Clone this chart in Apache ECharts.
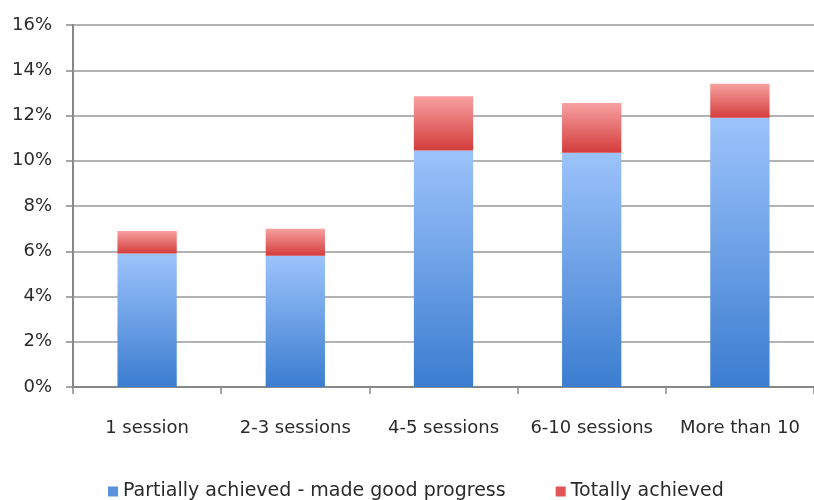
<!DOCTYPE html>
<html>
<head>
<meta charset="utf-8">
<script src="https://cdn.jsdelivr.net/npm/echarts@6/dist/echarts.min.js"></script>
<style>
html,body{margin:0;padding:0;background:#fff;}
#chart{width:814px;height:500px;}
</style>
</head>
<body>
<div id="chart"></div>
<script>
// Share of clients by number of sessions, split by outcome
const categories = ['1 session', '2-3 sessions', '4-5 sessions', '6-10 sessions', 'More than 10'];
const partiallyAchieved = [5.9, 5.8, 10.45, 10.35, 11.9];
const totallyAchieved = [1.0, 1.2, 2.4, 2.2, 1.5];
const seriesNames = ['Partially achieved - made good progress', 'Totally achieved'];
const yTicks = [0, 2, 4, 6, 8, 10, 12, 14, 16];

const font = 'DejaVu Sans';

function vGrad(top, bottom) {
  return new echarts.graphic.LinearGradient(0, 0, 0, 1, [
    { offset: 0, color: top },
    { offset: 1, color: bottom }
  ]);
}

const chart = echarts.init(document.getElementById('chart'));
chart.setOption({
  animation: false,
  textStyle: { fontFamily: font },
  grid: { left: 73, right: -4, top: 25, bottom: 113, containLabel: false },
  legend: {
    bottom: -6,
    left: 103,
    itemWidth: 10,
    itemHeight: 10,
    itemGap: 50,
    icon: 'rect',
    textStyle: { fontFamily: font, fontSize: 19, color: '#2a2a2a' },
    data: [
      { name: seriesNames[0], itemStyle: { color: '#5b92df' } },
      { name: seriesNames[1], itemStyle: { color: '#e05656' } }
    ]
  },
  xAxis: {
    type: 'category',
    data: categories,
    axisLine: { lineStyle: { color: '#888', width: 2 } },
    axisTick: { show: true, length: 7, lineStyle: { color: '#888', width: 1.5 } },
    axisLabel: { fontSize: 18, color: '#2a2a2a', margin: 32, interval: 0 }
  },
  yAxis: {
    type: 'value',
    min: yTicks[0],
    max: yTicks[yTicks.length - 1],
    interval: 2,
    axisLine: { show: true, lineStyle: { color: '#888', width: 2 } },
    axisTick: { show: true, length: 7, lineStyle: { color: '#888', width: 1.5 } },
    splitLine: { lineStyle: { color: '#999', width: 1.5 } },
    axisLabel: { fontSize: 18, color: '#2a2a2a', margin: 21, formatter: v => v + '%' }
  },
  series: [
    {
      name: seriesNames[0],
      type: 'bar',
      stack: 'total',
      barWidth: '40%',
      data: partiallyAchieved,
      itemStyle: { color: vGrad('#9cc3fb', '#3b7dd0') }
    },
    {
      name: seriesNames[1],
      type: 'bar',
      stack: 'total',
      barWidth: '40%',
      data: totallyAchieved,
      itemStyle: { color: vGrad('#f8a0a0', '#d43c3c') }
    }
  ]
});
</script>
</body>
</html>
